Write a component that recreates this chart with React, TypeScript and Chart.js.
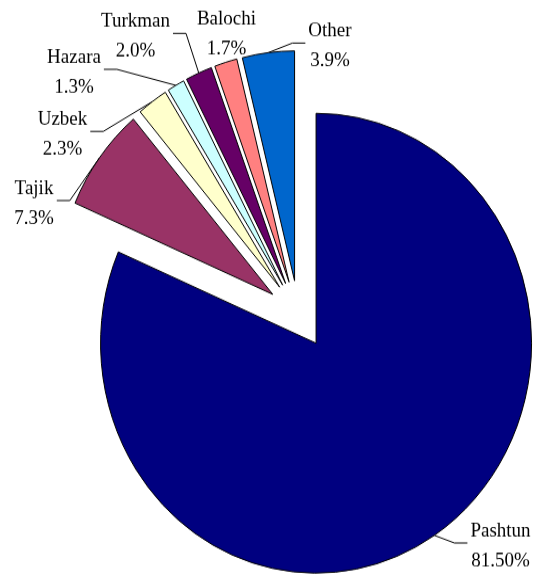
import React, { useEffect, useRef } from 'react';
import { Chart, registerables } from 'chart.js';

Chart.register(...registerables);

// ---- data ----
const NAMES = ['Pashtun', 'Tajik', 'Uzbek', 'Hazara', 'Turkman', 'Balochi', 'Other'];
const VALUES = [81.5, 7.3, 2.3, 1.3, 2.0, 1.7, 3.9];
const PCT_LABELS = ['81.50%', '7.3%', '2.3%', '1.3%', '2.0%', '1.7%', '3.9%'];
const COLORS = ['#000080', '#993366', '#FFFFCC', '#CCFFFF', '#660066', '#FF8080', '#0066CC'];

// ---- label layout (canvas px before the vertical stretch): centre x, first-line baseline ----
const LABEL_X = [500.5, 34, 62.5, 74, 135.5, 226.5, 330];
const LABEL_Y = [503, 182, 117.2, 59, 25.3, 23.4, 34.4];
const LABEL_LEADER = [true, true, true, true, true, false, true];

// ---- styling / geometry ----
const CANVAS_W = 534;
const CANVAS_H = 539;
const DISPLAY_H = 575;
const RADIUS = 215.5;
const EXPLODE = 32;
const FONT = '19px "Liberation Serif"';
const LINE_GAP = 28;

const explodePlugin = {
  id: 'explodeSlices',
  afterDatasetUpdate(chart: any, args: any) {
    const meta = chart.getDatasetMeta(args.index);
    meta.data.forEach((arc: any) => {
      const mid = (arc.startAngle + arc.endAngle) / 2;
      arc.x += Math.cos(mid) * EXPLODE;
      arc.y += Math.sin(mid) * EXPLODE;
    });
  },
};

function anchorOf(arc: any) {
  const mid = (arc.startAngle + arc.endAngle) / 2;
  return {
    x: arc.x + Math.cos(mid) * arc.outerRadius,
    y: arc.y + Math.sin(mid) * arc.outerRadius,
  };
}

const labelPlugin = {
  id: 'sliceLabels',
  beforeDatasetsDraw(chart: any) {
    const ctx = chart.ctx;
    const meta = chart.getDatasetMeta(0);
    ctx.save();
    ctx.font = FONT;
    ctx.strokeStyle = '#000';
    ctx.lineWidth = 1;
    meta.data.forEach((arc: any, i: number) => {
      if (!LABEL_LEADER[i]) return;
      const w = Math.max(ctx.measureText(NAMES[i]).width, ctx.measureText(PCT_LABELS[i]).width);
      const a = anchorOf(arc);
      const dir = a.x > LABEL_X[i] ? 1 : -1;
      const sx = LABEL_X[i] + dir * (w / 2 + 3);
      const y0 = LABEL_Y[i] + 6;
      const ex = sx + dir * 13;
      ctx.beginPath();
      ctx.moveTo(sx, y0);
      ctx.lineTo(ex, y0);
      ctx.lineTo(a.x, a.y);
      ctx.stroke();
    });
    ctx.restore();
  },
  afterDatasetsDraw(chart: any) {
    const ctx = chart.ctx;
    ctx.save();
    ctx.font = FONT;
    ctx.fillStyle = '#000';
    ctx.textAlign = 'center';
    ctx.textBaseline = 'alphabetic';
    NAMES.forEach((name, i) => {
      ctx.fillText(name, LABEL_X[i], LABEL_Y[i]);
      ctx.fillText(PCT_LABELS[i], LABEL_X[i], LABEL_Y[i] + LINE_GAP);
    });
    ctx.restore();
  },
};

export default function App() {
  const ref = useRef<HTMLCanvasElement>(null);

  useEffect(() => {
    if (!ref.current) return;
    const chart = new Chart(ref.current, {
      type: 'pie',
      data: {
        labels: NAMES,
        datasets: [
          {
            data: VALUES,
            backgroundColor: COLORS,
            borderColor: '#000000',
            borderWidth: 1,
            borderJoinStyle: 'miter',
          } as any,
        ],
      },
      options: {
        animation: false,
        responsive: false,
        devicePixelRatio: 1,
        events: [],
        radius: RADIUS,
        layout: { padding: { left: 63, right: 0, top: 51, bottom: 0 } },
        plugins: {
          legend: { display: false },
          tooltip: { enabled: false },
        },
      } as any,
      plugins: [explodePlugin, labelPlugin],
    });
    return () => chart.destroy();
  }, []);

  return (
    <canvas
      ref={ref}
      width={CANVAS_W}
      height={CANVAS_H}
      style={{
        position: 'fixed',
        left: 0,
        top: 0,
        display: 'block',
        width: CANVAS_W + 'px',
        height: DISPLAY_H + 'px',
        background: '#ffffff',
      }}
    />
  );
}
